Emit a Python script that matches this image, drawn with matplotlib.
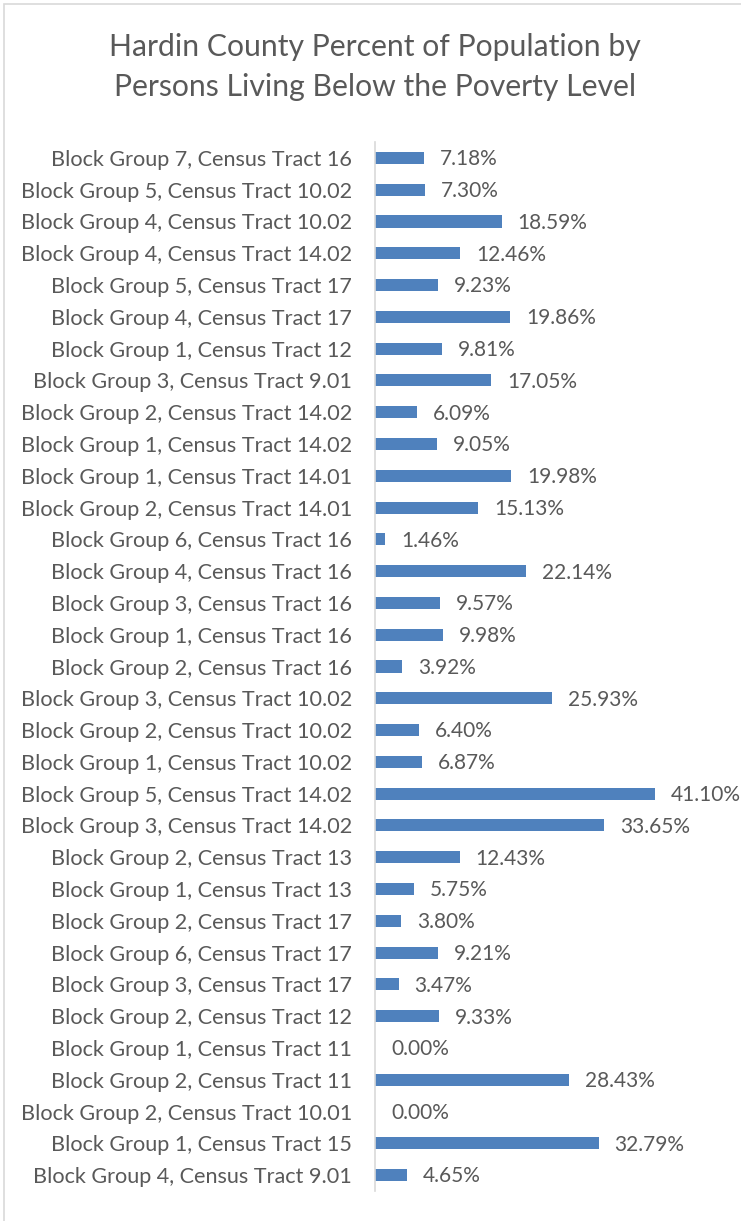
import matplotlib.pyplot as plt
from matplotlib.patches import Rectangle

# Categories top to bottom as in the chart
labels = [
    "Block Group 7, Census Tract 16",
    "Block Group 5, Census Tract 10.02",
    "Block Group 4, Census Tract 10.02",
    "Block Group 4, Census Tract 14.02",
    "Block Group 5, Census Tract 17",
    "Block Group 4, Census Tract 17",
    "Block Group 1, Census Tract 12",
    "Block Group 3, Census Tract 9.01",
    "Block Group 2, Census Tract 14.02",
    "Block Group 1, Census Tract 14.02",
    "Block Group 1, Census Tract 14.01",
    "Block Group 2, Census Tract 14.01",
    "Block Group 6, Census Tract 16",
    "Block Group 4, Census Tract 16",
    "Block Group 3, Census Tract 16",
    "Block Group 1, Census Tract 16",
    "Block Group 2, Census Tract 16",
    "Block Group 3, Census Tract 10.02",
    "Block Group 2, Census Tract 10.02",
    "Block Group 1, Census Tract 10.02",
    "Block Group 5, Census Tract 14.02",
    "Block Group 3, Census Tract 14.02",
    "Block Group 2, Census Tract 13",
    "Block Group 1, Census Tract 13",
    "Block Group 2, Census Tract 17",
    "Block Group 6, Census Tract 17",
    "Block Group 3, Census Tract 17",
    "Block Group 2, Census Tract 12",
    "Block Group 1, Census Tract 11",
    "Block Group 2, Census Tract 11",
    "Block Group 2, Census Tract 10.01",
    "Block Group 1, Census Tract 15",
    "Block Group 4, Census Tract 9.01",
]
values = [7.18, 7.30, 18.59, 12.46, 9.23, 19.86, 9.81, 17.05, 6.09, 9.05,
          19.98, 15.13, 1.46, 22.14, 9.57, 9.98, 3.92, 25.93, 6.40, 6.87,
          41.10, 33.65, 12.43, 5.75, 3.80, 9.21, 3.47, 9.33, 0.00, 28.43,
          0.00, 32.79, 4.65]

text_color = "#595959"
bar_color = "#4F81BD"
font = ["Lato", "DejaVu Sans"]

fig = plt.figure(figsize=(7.41, 12.21), dpi=100)
fig.patches.append(Rectangle((4 / 741, -0.01), 1.0, 1 - 4 / 1221 + 0.01,
                             transform=fig.transFigure, fill=False,
                             edgecolor="#d9d9d9", linewidth=1.2))

ax = fig.add_axes([375 / 741, 30 / 1221, 341 / 741, 1049 / 1221])
y = list(range(len(labels)))
ax.barh(y, values, height=0.38, color=bar_color)
ax.set_ylim(len(labels) - 0.5, -0.5)
ax.set_xlim(0, 50)

for yi, v in zip(y, values):
    ax.annotate(f"{v:.2f}%", (v, yi), xytext=(11.5, -1), textcoords="offset points",
                va="center", ha="left", fontsize=15, color=text_color, family=font)

ax.set_yticks(y)
ax.set_yticklabels(labels, fontsize=15.6, color=text_color, family=font)
ax.tick_params(axis="y", length=0, pad=16.5)
ax.set_xticks([])
for s in ["top", "right", "bottom"]:
    ax.spines[s].set_visible(False)
ax.spines["left"].set_color("#d9d9d9")
ax.spines["left"].set_linewidth(1.2)

fig.text(375 / 741, 1 - 67 / 1221,
         "Hardin County Percent of Population by\nPersons Living Below the Poverty Level",
         ha="center", va="center", fontsize=21.7, color=text_color, family=font,
         linespacing=1.48)

fig.savefig("out.png", dpi=100)
